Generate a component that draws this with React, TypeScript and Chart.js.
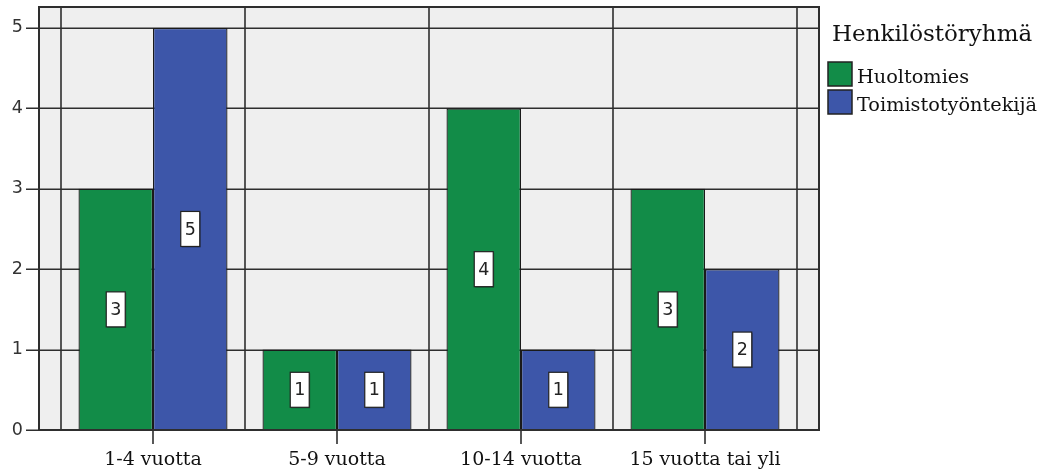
import React, { useEffect, useRef } from 'react';
import { Chart, registerables } from 'chart.js';

Chart.register(...registerables);

const categories = ['1-4 vuotta', '5-9 vuotta', '10-14 vuotta', '15 vuotta tai yli'];
const huoltomies = [3, 1, 4, 3];
const toimistotyontekija = [5, 1, 1, 2];
const seriesNames = ['Huoltomies', 'Toimistotyöntekijä'];
const legendTitle = 'Henkilöstöryhmä';
const yTickValues = [0, 1, 2, 3, 4, 5];
const yMax = 5.26;

const GREEN = '#128c48';
const BLUE = '#3d56a9';
const LINE = '#2e2e2e';
const PLOT_BG = '#efefef';
const SERIF = '"DejaVu Serif", serif';
const SANS = '"DejaVu Sans", sans-serif';

const framePlugin = {
  id: 'spssFrame',
  beforeDatasetsDraw(chart: any) {
    const { ctx, chartArea } = chart;
    const yScale = chart.scales.y;
    const xScale = chart.scales.x;
    const pad = 22;
    const L = chartArea.left - pad;
    const R = chartArea.right + pad;
    const T = chartArea.top;
    const B = chartArea.bottom;
    ctx.save();
    ctx.fillStyle = PLOT_BG;
    ctx.fillRect(L, T, R - L, B - T);
    ctx.strokeStyle = LINE;
    ctx.lineWidth = 1.6;
    // horizontal grid + y tick marks
    yTickValues.forEach((v) => {
      const y = Math.round(yScale.getPixelForValue(v)) + 0.25;
      ctx.beginPath();
      ctx.moveTo(L - 13, y);
      ctx.lineTo(R, y);
      ctx.stroke();
    });
    // vertical category boundaries
    const n = categories.length;
    const step = xScale.getPixelForValue(1) - xScale.getPixelForValue(0);
    for (let i = 0; i <= n; i++) {
      const x = i < n
        ? xScale.getPixelForValue(i) - step / 2
        : xScale.getPixelForValue(n - 1) + step / 2;
      ctx.beginPath();
      ctx.moveTo(x, T);
      ctx.lineTo(x, B);
      ctx.stroke();
    }
    ctx.restore();
  },
  afterDatasetsDraw(chart: any) {
    const { ctx, chartArea } = chart;
    const xScale = chart.scales.x;
    const pad = 22;
    const L = chartArea.left - pad;
    const R = chartArea.right + pad;
    const T = chartArea.top;
    const B = chartArea.bottom;
    ctx.save();
    // outer border
    ctx.strokeStyle = LINE;
    ctx.lineWidth = 2;
    ctx.strokeRect(L, T, R - L, B - T);
    // x tick marks at category centres
    ctx.lineWidth = 1.6;
    categories.forEach((_, i) => {
      const x = xScale.getPixelForValue(i);
      ctx.beginPath();
      ctx.moveTo(x, B);
      ctx.lineTo(x, B + 14);
      ctx.stroke();
    });
    // value label boxes
    chart.data.datasets.forEach((ds: any, di: number) => {
      const meta = chart.getDatasetMeta(di);
      meta.data.forEach((bar: any, i: number) => {
        const val = ds.data[i];
        const cx = bar.x;
        const cy = (bar.y + bar.base) / 2;
        const w = 19;
        const h = 35;
        ctx.fillStyle = 'rgba(0,0,0,0.3)';
        ctx.fillRect(cx - w / 2 + 1, cy - h / 2 + 1, w, h);
        ctx.fillStyle = '#ffffff';
        ctx.fillRect(cx - w / 2, cy - h / 2, w, h);
        ctx.strokeStyle = '#222';
        ctx.lineWidth = 1.2;
        ctx.strokeRect(cx - w / 2, cy - h / 2, w, h);
        ctx.fillStyle = '#222';
        ctx.font = `17.5px ${SANS}`;
        ctx.textAlign = 'center';
        ctx.textBaseline = 'middle';
        ctx.fillText(String(val), cx, cy + 1);
      });
    });
    // legend
    ctx.fillStyle = '#111';
    ctx.textAlign = 'left';
    ctx.textBaseline = 'alphabetic';
    ctx.font = `23px ${SERIF}`;
    ctx.fillText(legendTitle, R + 13, 41);
    const colors = [GREEN, BLUE];
    seriesNames.forEach((name, i) => {
      const by = 62 + i * 28;
      ctx.fillStyle = colors[i];
      ctx.fillRect(R + 9, by, 24, 24);
      ctx.strokeStyle = '#222';
      ctx.lineWidth = 1.5;
      ctx.strokeRect(R + 9, by, 24, 24);
      ctx.fillStyle = '#111';
      ctx.font = `19.3px ${SERIF}`;
      ctx.fillText(name, R + 38, by + 21);
    });
    ctx.restore();
  },
};

export default function App() {
  const canvasRef = useRef<HTMLCanvasElement | null>(null);

  useEffect(() => {
    if (!canvasRef.current) return;
    const chart = new Chart(canvasRef.current, {
      type: 'bar',
      data: {
        labels: categories,
        datasets: [
          {
            label: seriesNames[0],
            data: huoltomies,
            backgroundColor: GREEN,
            borderColor: '#1a1a1a',
            borderWidth: 1.3,
          },
          {
            label: seriesNames[1],
            data: toimistotyontekija,
            backgroundColor: BLUE,
            borderColor: '#1a1a1a',
            borderWidth: 1.3,
          },
        ],
      },
      options: {
        animation: false,
        responsive: true,
        maintainAspectRatio: false,
        layout: { padding: { left: 0, right: 252, top: 7, bottom: 0 } },
        plugins: {
          legend: { display: false },
          tooltip: { enabled: false },
        },
        datasets: {
          bar: { categoryPercentage: 0.81, barPercentage: 1 },
        },
        scales: {
          x: {
            type: 'category',
            grid: { display: false, drawTicks: false },
            border: { display: false },
            ticks: {
              font: { family: SERIF, size: 19 },
              color: '#111',
              padding: 19,
              maxRotation: 0,
              autoSkip: false,
            },
            afterFit: (scale: any) => {
              scale.height = 42;
              scale.paddingLeft = 0;
              scale.paddingRight = 0;
            },
          },
          y: {
            type: 'linear',
            min: 0,
            max: yMax,
            grid: { display: false, drawTicks: false },
            border: { display: false },
            afterBuildTicks: (scale: any) => {
              scale.ticks = yTickValues.map((v) => ({ value: v }));
            },
            ticks: {
              font: { family: SANS, size: 17.5 },
              color: '#333',
              padding: 38,
            },
            afterFit: (scale: any) => {
              scale.width = 61;
              scale.paddingTop = 0;
              scale.paddingBottom = 0;
            },
          },
        },
      },
      plugins: [framePlugin],
    });
    return () => chart.destroy();
  }, []);

  return (
    <div style={{ position: 'absolute', left: 0, top: 0, width: 1049, height: 472, background: '#fff' }}>
      <canvas ref={canvasRef} />
    </div>
  );
}
